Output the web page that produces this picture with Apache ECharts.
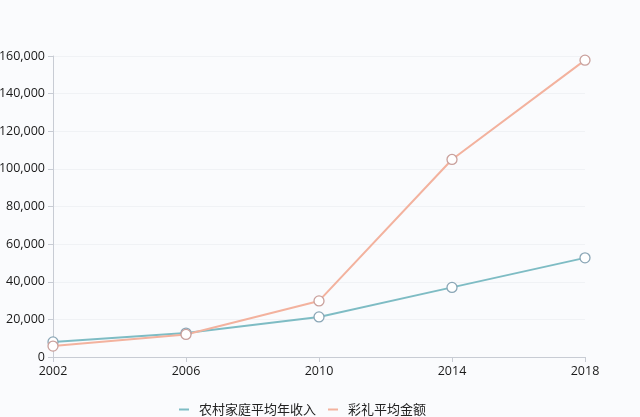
<!DOCTYPE html>
<html>
<head>
<meta charset="utf-8">
<script src="https://cdn.jsdelivr.net/npm/echarts@6/dist/echarts.min.js"></script>
<style>
  html, body { margin: 0; padding: 0; background: #fafbfd; }
  #chart { width: 640px; height: 417px; }
</style>
</head>
<body>
<div id="chart"></div>
<script>
// 数据
var years = ['2002', '2006', '2010', '2014', '2018'];
var incomeName = '农村家庭平均年收入';
var incomeData = [8000, 12700, 21300, 37000, 52700];
var brideName = '彩礼平均金额';
var brideData = [5800, 12000, 29800, 105000, 157800];

var myChart = echarts.init(document.getElementById('chart'));

function lineSeries(name, data, color, border) {
    return {
        name: name,
        type: 'line',
        data: data,
        symbol: 'circle',
        symbolSize: 10,
        lineStyle: { color: color, width: 2 },
        itemStyle: { color: '#ffffff', borderColor: border, borderWidth: 1.3 }
    };
}

var option = {
    backgroundColor: '#fafbfd',
    animation: false,
    color: ['#7ebcc4', '#f3b29e'],
    grid: { left: 53, right: 55, top: 56, bottom: 60, outerBoundsMode: 'none' },
    legend: {
        top: 398,
        left: 174,
        itemWidth: 10,
        itemHeight: 2,
        itemGap: 12,
        icon: 'rect',
        textStyle: {
            fontSize: 13, color: '#222', fontFamily: 'Noto Sans CJK SC',
            padding: [0, 0, 0, 5]
        },
        data: [
            { name: incomeName, itemStyle: { color: '#7ebcc4', borderWidth: 0 } },
            { name: brideName, itemStyle: { color: '#f3b29e', borderWidth: 0 } }
        ]
    },
    xAxis: {
        type: 'category',
        boundaryGap: false,
        data: years,
        axisLine: { lineStyle: { color: '#c8ccd4' } },
        axisTick: { alignWithLabel: true, lineStyle: { color: '#c8ccd4' } },
        axisLabel: { color: '#1a1a1a', fontSize: 12.5, margin: 8, fontFamily: 'Open Sans' }
    },
    yAxis: {
        type: 'value',
        min: 0,
        max: 160000,
        interval: 20000,
        axisLine: { show: true, lineStyle: { color: '#c8ccd4' } },
        axisTick: { show: true, lineStyle: { color: '#c8ccd4' } },
        splitLine: { lineStyle: { color: '#f0f2f5' } },
        axisLabel: {
            color: '#1a1a1a',
            fontSize: 12.5,
            margin: 8,
            fontFamily: 'Open Sans',
            formatter: function (v) { return v.toLocaleString('en-US'); }
        }
    },
    series: [
        lineSeries(incomeName, incomeData, '#7ebcc4', '#8aa6b6'),
        lineSeries(brideName, brideData, '#f3b29e', '#c9a09c')
    ]
};

myChart.setOption(option);
</script>
</body>
</html>
